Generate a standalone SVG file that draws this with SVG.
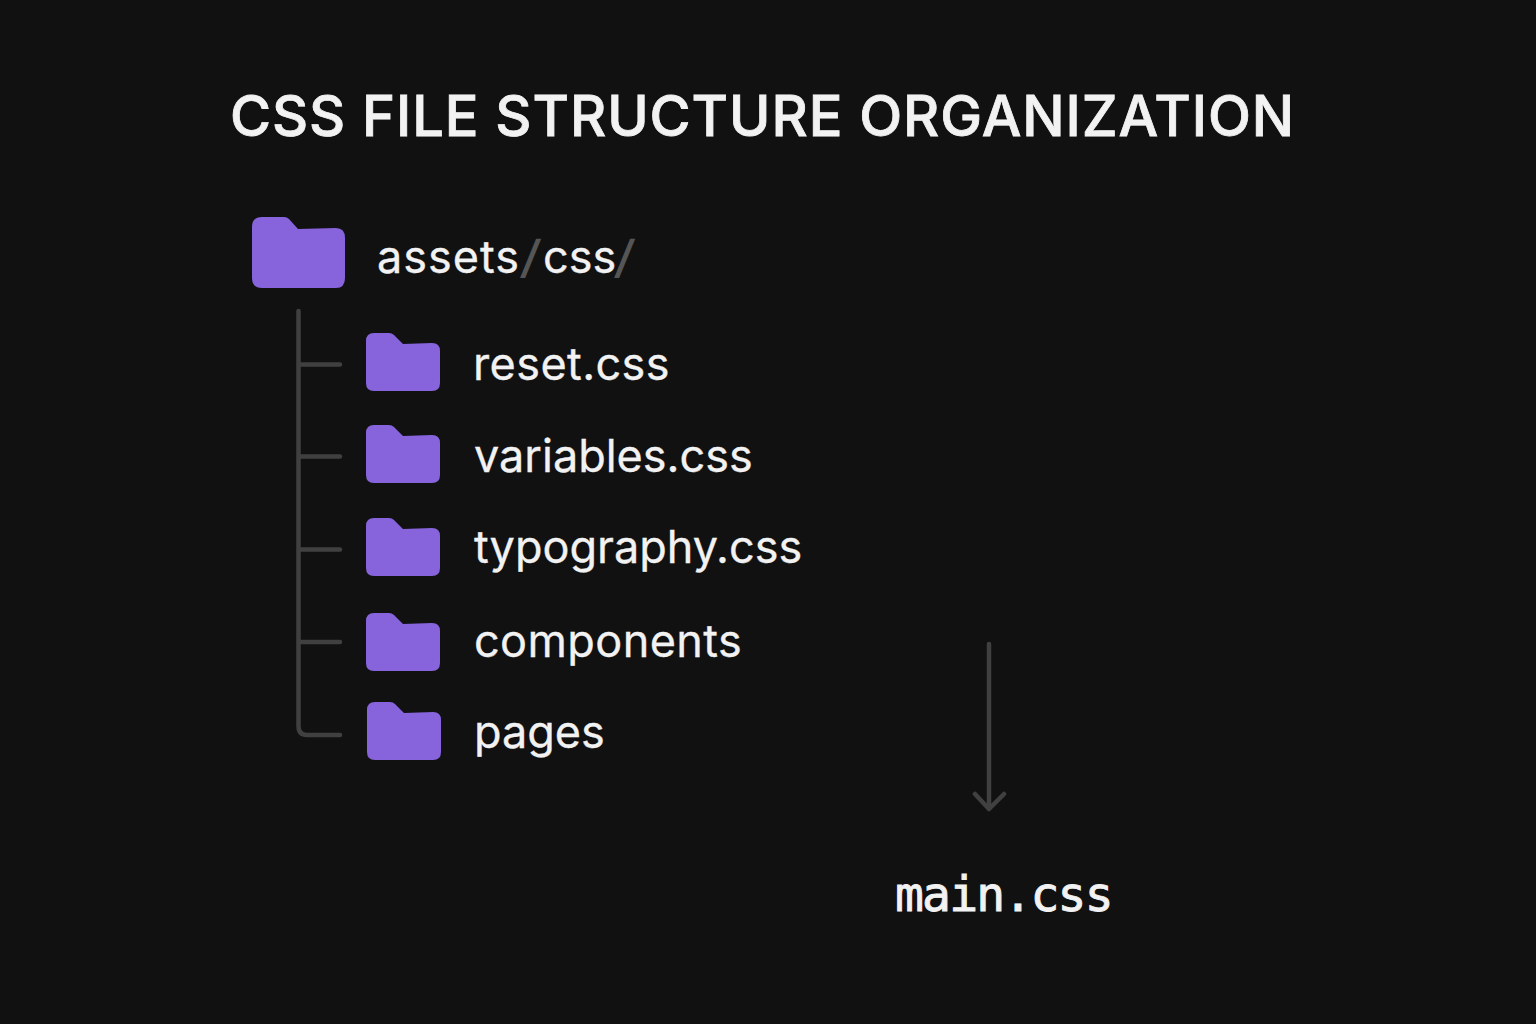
<svg xmlns="http://www.w3.org/2000/svg" width="1536" height="1024" viewBox="0 0 1536 1024">
<style>
.t{font-family:Inter,"Liberation Sans",sans-serif;fill:#f2f2f2;stroke:#f2f2f2;stroke-width:.3;font-size:45px}
.s{font-family:Inter,"Liberation Sans",sans-serif;fill:#555;font-size:45px;font-weight:600}
.m{font-family:"DejaVu Sans Mono","Liberation Mono",monospace;fill:#f2f2f2;stroke:#f2f2f2;stroke-width:.9;font-size:48px;letter-spacing:-1.8px}
.f{fill:#8763dc}
.c{fill:none;stroke:#404040;stroke-width:4.500;stroke-linecap:round;stroke-linejoin:round}
</style>
<defs>
<path id="fs" d="M0 8Q0 0 8 0H23Q26 0 28 2L37 11L66 10Q74 10 74 18V50Q74 58 66 58H8Q0 58 0 50Z"/>
</defs>
<rect width="1536" height="1024" fill="#111112"/>
<text x="230" y="136" font-family="Inter,'Liberation Sans',sans-serif" font-size="56" font-weight="500" letter-spacing=".93" fill="#f2f2f2" stroke="#f2f2f2" stroke-width=".8">CSS FILE STRUCTURE ORGANIZATION</text>
<g id="connectors" class="c">
<path d="M298.500 311V726Q298.500 735 307 735H340"/>
<path d="M300 364.500H340M300 456.500H340M300 549.500H340M300 642H340"/>
<path d="M989 644V809M975 794L989 809L1004 794"/>
</g>
<g id="root"><path class="f" d="M252 227Q252 217 262 217H284Q287 217 289 219L298 229L336 228Q345 228 345 238V278Q345 288 336 288H262Q252 288 252 278Z"/>
<text class="t" x="377" y="273" letter-spacing="1">assets</text>
<text class="s" transform="translate(520 273) skewX(-8)">/</text>
<text class="t" x="543" y="273">css</text>
<text class="s" transform="translate(614 273) skewX(-8)">/</text></g>
<g id="reset"><use href="#fs" class="f" x="366" y="333"/><text class="t" x="473" y="380" letter-spacing=".4">reset.css</text></g>
<g id="variables"><use href="#fs" class="f" x="366" y="425"/><text class="t" x="474" y="472">variables.css</text></g>
<g id="typography"><use href="#fs" class="f" x="366" y="518"/><text class="t" x="474" y="563">typography.css</text></g>
<g id="components"><use href="#fs" class="f" x="366" y="613"/><text class="t" x="474" y="657" letter-spacing=".4">components</text></g>
<g id="pages"><use href="#fs" class="f" x="367" y="702"/><text class="t" x="474" y="748">pages</text></g>
<g id="main"><text class="m" x="895" y="911">main.css</text></g>
</svg>
